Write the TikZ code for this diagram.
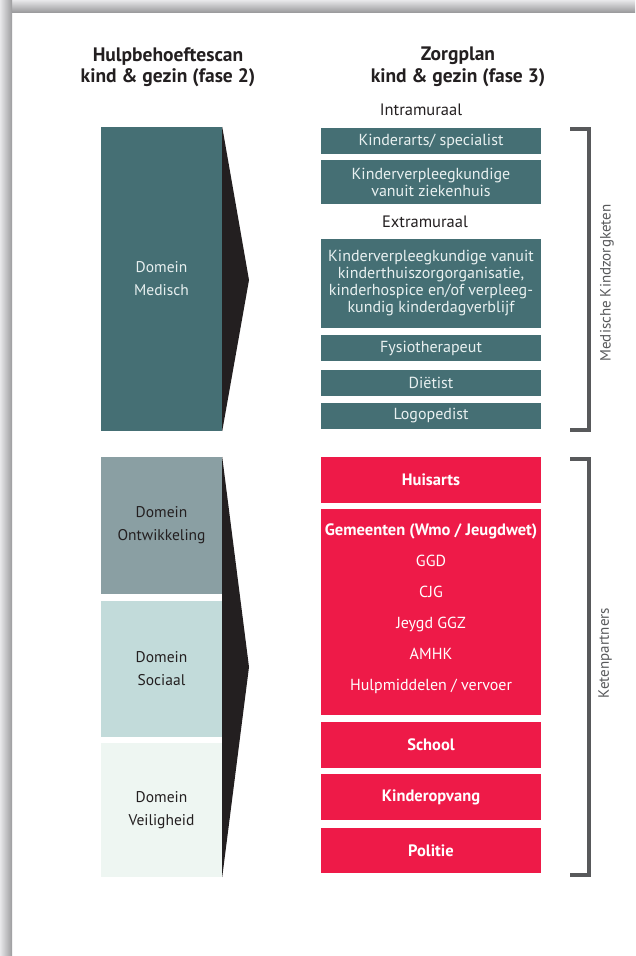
\documentclass[tikz,border=0pt]{standalone}
\usepackage{fontspec}
\setmainfont{PT Sans}
\definecolor{kteal}{HTML}{456F74}
\definecolor{kontw}{HTML}{8A9FA3}
\definecolor{ksoc}{HTML}{C2DBDA}
\definecolor{kveil}{HTML}{EEF6F2}
\definecolor{kred}{HTML}{EE1A48}
\definecolor{kdark}{HTML}{231F20}
\definecolor{kgray}{HTML}{58595B}
\definecolor{kboxtext}{HTML}{E8F0F0}
\definecolor{shlight}{HTML}{E8E8EA}
\definecolor{shdark}{HTML}{9C9C9E}
\begin{document}
\begin{tikzpicture}[x=1pt,y=-1pt,
  tealbox/.style={fill=kteal, text=kboxtext, minimum width=220pt, inner sep=0pt, align=center, font=\fontsize{16}{17}\selectfont},
  redbox/.style={fill=kred, text=white, minimum width=220pt, inner sep=0pt, align=center, font=\fontsize{16.5}{18}\selectfont\bfseries},
  dombox/.style={minimum width=121pt, inner sep=0pt, align=center, font=\fontsize{15.5}{23}\selectfont},
  header/.style={align=center, text=kdark, font=\fontsize{19.5}{21.5}\selectfont\bfseries},
  sublabel/.style={text=kdark, font=\fontsize{16.5}{18}\selectfont},
  sidelabel/.style={rotate=90, text=kgray, font=\fontsize{15}{16}\selectfont},
  bracket/.style={draw=kgray, line width=4pt}
]
\useasboundingbox (0,0) rectangle (635,956);
\fill[white] (0,0) rectangle (635,956);
\shade[top color=shlight, bottom color=shdark] (0,0) rectangle (635,12);
\shade[left color=shlight, right color=shdark] (0,0) rectangle (12,956);

% headers
\node[header] (h1) at (168,67) {Hulpbehoeftescan\\kind \& gezin (fase 2)};
\node[header] (h2) at (458,67) {Zorgplan\\kind \& gezin (fase 3)};
\node[sublabel] (intra) at (421,110) {Intramuraal};
\node[sublabel] (extra) at (425,222) {Extramuraal};

% left domains
\node[dombox, fill=kteal, text=kboxtext, minimum height=304pt] (dmed) at (161.5,279) {Domein\\Medisch};
\node[dombox, fill=kontw, text=kdark, minimum height=137pt] (dontw) at (161.5,525.5) {Domein\\Ontwikkeling};
\node[dombox, fill=ksoc, text=kdark, minimum height=136pt] (dsoc) at (161.5,669) {Domein\\Sociaal};
\node[dombox, fill=kveil, text=kdark, minimum height=134pt] (dveil) at (161.5,810) {Domein\\Veiligheid};

\coordinate (tip1) at (249,280);
\coordinate (tip2) at (249,667);
\fill[kdark] (dmed.north east) -- (tip1) -- (dmed.south east) -- cycle;
\fill[kdark] (dontw.north east) -- (tip2) -- (dveil.south east) -- cycle;

% right teal boxes
\node[tealbox, minimum height=26pt] (n1) at (431,141) {Kinderarts/ specialist};
\node[tealbox, minimum height=44pt] (n2) at (431,182) {Kinderverpleegkundige\\vanuit ziekenhuis};
\node[tealbox, minimum height=89pt] (n3) at (431,283.5) {Kinderverpleegkundige vanuit\\kinderthuiszorgorganisatie,\\kinderhospice en/of verpleeg-\\kundig kinderdagverblijf};
\node[tealbox, minimum height=26pt] (n4) at (431,348) {Fysiotherapeut};
\node[tealbox, minimum height=26pt] (n5) at (431,383) {Diëtist};
\node[tealbox, minimum height=26pt] (n6) at (431,416) {Logopedist};

% right red boxes
\node[redbox, minimum height=46pt] (r1) at (431,480) {Huisarts};
\node[redbox, minimum height=206pt] (r2) at (431,612) {};
\node[align=center, text=white, font=\fontsize{16}{31}\selectfont] (r2t) at (431,609)
  {\textbf{\fontsize{16.5}{31}\selectfont Gemeenten (Wmo / Jeugdwet)}\\GGD\\CJG\\Jeygd GGZ\\AMHK\\Hulpmiddelen / vervoer};
\node[redbox, minimum height=46pt] (r3) at (431,745) {School};
\node[redbox, minimum height=46pt] (r4) at (431,797) {Kinderopvang};
\node[redbox, minimum height=45pt] (r5) at (431,850.5) {Politie};

% brackets
\draw[bracket] (570,129) -- (589,129) -- (589,430) -- (570,430);
\draw[bracket] (570,459) -- (589,459) -- (589,875) -- (570,875);
\node[sidelabel] (lab1) at (607,283) {Medische Kindzorgketen};
\node[sidelabel] (lab2) at (605,653) {Ketenpartners};
\end{tikzpicture}
\end{document}
